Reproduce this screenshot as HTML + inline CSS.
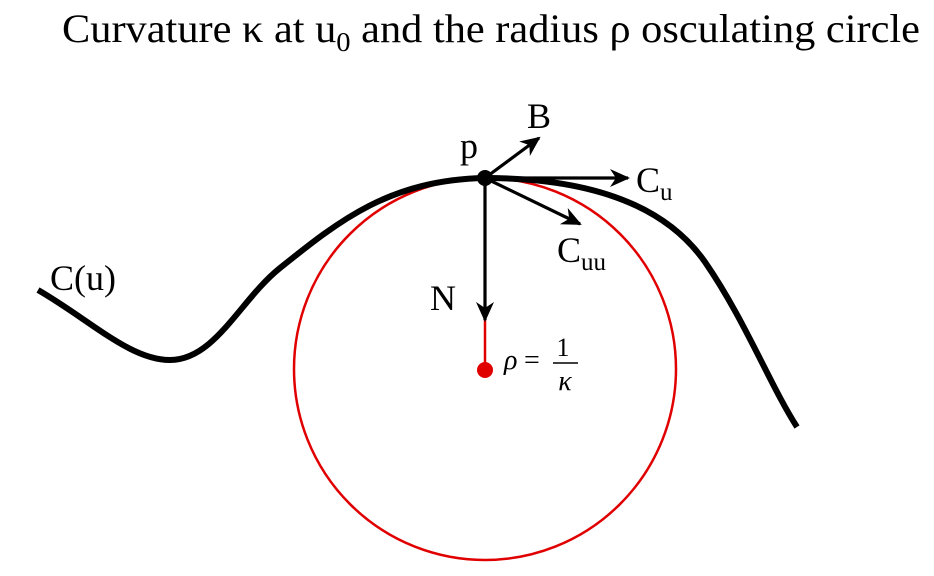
<!DOCTYPE html>
<html><head><meta charset="utf-8"><style>
html,body{margin:0;padding:0;background:#fff;}
svg{display:block;font-family:"Liberation Serif",serif;}
</style></head><body>
<svg width="934" height="576" viewBox="0 0 934 576">
<defs>
<marker id="ah" viewBox="0 0 20 20" refX="18" refY="10" markerWidth="20" markerHeight="20" markerUnits="userSpaceOnUse" orient="auto">
<path d="M0,1 L20,10 L0,19 L6,10 Z" fill="#000"/>
</marker>
</defs>
<text x="62" y="42" font-size="40" textLength="858" lengthAdjust="spacingAndGlyphs">Curvature κ at u<tspan font-size="27" dy="9">0</tspan><tspan dy="-9"> and the radius ρ osculating circle</tspan></text>
<circle cx="485" cy="369" r="191" fill="none" stroke="#e00000" stroke-width="2.5"/>
<line x1="485" y1="315" x2="485" y2="369" stroke="#e00000" stroke-width="2.5"/>
<circle cx="485" cy="370" r="8" fill="#e00000"/>
<path d="M38,290 C90,320 130,360 170,360 C215,360 240,300 280,268 C340,220 390,180 485,178 C590,178 665,205 705,262 C745,320 770,385 797,427" fill="none" stroke="#000" stroke-width="6"/>
<line x1="485" y1="178" x2="628" y2="178" stroke="#000" stroke-width="3.2" marker-end="url(#ah)"/>
<line x1="485" y1="178" x2="485" y2="320" stroke="#000" stroke-width="3.2" marker-end="url(#ah)"/>
<line x1="485" y1="178" x2="539" y2="138" stroke="#000" stroke-width="3.2" marker-end="url(#ah)"/>
<line x1="485" y1="178" x2="580" y2="224" stroke="#000" stroke-width="3.2" marker-end="url(#ah)"/>
<circle cx="485" cy="178" r="8" fill="#000"/>
<text x="460" y="158" font-size="36">p</text>
<text x="527" y="128" font-size="36">B</text>
<text x="636" y="192" font-size="36">C<tspan font-size="25" dy="8">u</tspan></text>
<text x="557" y="262" font-size="36">C<tspan font-size="25" dy="8">uu</tspan></text>
<text x="430" y="310" font-size="36">N</text>
<text x="50" y="290" font-size="36">C(u)</text>
<g>
<text x="504" y="369" font-size="28" font-style="italic">ρ</text>
<text x="524" y="369" font-size="28">=</text>
<text x="563" y="356" font-size="26" text-anchor="middle">1</text>
<line x1="553" y1="363" x2="578" y2="363" stroke="#000" stroke-width="1.5"/>
<text x="565" y="390" font-size="28" font-style="italic" text-anchor="middle">κ</text>
</g>
</svg>
</body></html>
